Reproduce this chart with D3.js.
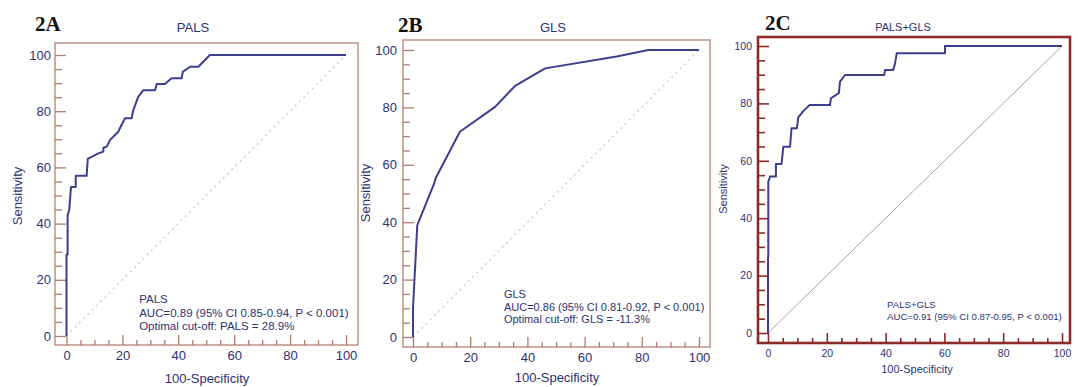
<!DOCTYPE html>
<html>
<head>
<meta charset="utf-8">
<script src="https://cdn.jsdelivr.net/npm/d3@7"></script>
<style>
  body { margin: 0; background: #fff; }
  svg { display: block; }
  text { font-family: Arial, "Liberation Sans", sans-serif; fill: #2d3272; }
  .panel-tag { font-family: "Liberation Serif", "Times New Roman", serif; font-weight: bold; fill: #111; }
</style>
</head>
<body>
<div id="chart"></div>
<script>
// ROC curve points (100-specificity, sensitivity)
const palsX = [0, 0, 0.4, 0.4, 1, 1.6, 3.3, 3.3, 7.2, 7.6, 11.4, 13.2, 13.2, 14.4, 15.6, 18.5, 20.9, 23.3, 23.9, 25.7, 27.5, 31.7, 32.3, 35.2, 37.6, 41.2, 41.6, 44.2, 47.2, 51.3, 100];
const palsY = [0, 29, 29, 43, 45, 53, 53, 57, 57, 63, 65, 65.6, 67, 67.4, 69.8, 72.7, 77.5, 77.5, 80.4, 85.2, 87.5, 87.5, 89.7, 89.7, 91.7, 91.7, 94, 95.8, 95.8, 100, 100];

const glsX = [0, 0, 1.5, 7.4, 7.9, 16.4, 28.7, 35.7, 46.2, 71.2, 82.3, 100];
const glsY = [0, 10, 39, 53.5, 55.3, 71.5, 80.2, 87.5, 93.6, 97.7, 100, 100];

const comboX = [0, 0, 0.1, 0.1, 0.7, 2.7, 2.7, 4.6, 5.2, 7.5, 8.0, 9.8, 10.3, 12, 14.1, 21.1, 21.4, 24.1, 24.5, 26.2, 39.5, 39.8, 42.6, 43.2, 43.8, 60.2, 60.2, 100];
const comboY = [0, 26.4, 26.4, 52.7, 54.5, 54.5, 58.9, 58.9, 64.9, 64.9, 71.3, 71.3, 75.1, 77.3, 79.4, 79.4, 81.8, 83.6, 87.6, 89.9, 89.9, 91.6, 91.6, 93.9, 97.5, 97.5, 100, 100];

const majorTicks = [0, 20, 40, 60, 80, 100];
const minorTicks = d3.range(0, 101, 5).filter(v => v % 20 !== 0);

const tags = ["2A", "2B", "2C"];
const titles = ["PALS", "GLS", "PALS+GLS"];
const notes = [
  ["PALS", "AUC=0.89 (95% CI 0.85-0.94, P < 0.001)", "Optimal cut-off: PALS = 28.9%"],
  ["GLS", "AUC=0.86 (95% CI 0.81-0.92, P < 0.001)", "Optimal cut-off: GLS = -11.3%"],
  ["PALS+GLS", "AUC=0.91 (95% CI 0.87-0.95, P < 0.001)"]
];
const xLabel = "100-Specificity";
const yLabel = "Sensitivity";

const width = 1078, height = 387;

// layout of each panel (pixels)
const panels = [
  { xs: palsX, ys: palsY, frame: [55, 43, 358, 345], xr: [66.5, 346], yr: [336, 55],
    frameColor: "#c4998c", tickColor: "#b07c70", frameW: 1.6,
    tagPos: [35, 31], titlePos: [193, 32], yLabPos: [22, 196], xLabPos: [207, 383],
    tickFont: 13, labFont: 13, titleFont: 13, noteFont: 11.5, noteX: 26, noteY: [303, 317, 330],
    tickPadY: 4, tickPadX: 6, diag: "dotted" },
  { xs: glsX, ys: glsY, frame: [403, 40, 710, 347], xr: [413, 699], yr: [337, 50],
    frameColor: "#c4998c", tickColor: "#b07c70", frameW: 1.6,
    tagPos: [398, 32], titlePos: [553, 32], yLabPos: [370, 193], xLabPos: [557, 382],
    tickFont: 13, labFont: 13, titleFont: 13, noteFont: 11, noteX: 31.8, noteY: [298, 311, 323],
    tickPadY: 6, tickPadX: 6, diag: "dotted" },
  { xs: comboX, ys: comboY, frame: [758, 37, 1070, 343], xr: [768, 1062], yr: [333, 46],
    frameColor: "#8e2a2a", tickColor: "#8e2a2a", frameW: 2.6,
    tagPos: [765, 30], titlePos: [903, 31], yLabPos: [727, 189], xLabPos: [917, 373],
    tickFont: 10.5, labFont: 11, titleFont: 11, noteFont: 9.6, noteX: 40.5, noteY: [308, 320],
    tickPadY: 6, tickPadX: 7, diag: "solid" }
];

const svg = d3.select("#chart").append("svg")
  .attr("width", width)
  .attr("height", height);

panels.forEach((p, i) => {
  const g = svg.append("g");
  const [fl, ft, fr, fb] = p.frame;
  const x = d3.scaleLinear().domain([0, 100]).range(p.xr);
  const y = d3.scaleLinear().domain([0, 100]).range(p.yr);

  // frame
  g.append("rect")
    .attr("x", fl).attr("y", ft)
    .attr("width", fr - fl).attr("height", fb - ft)
    .attr("fill", "#fff")
    .attr("stroke", p.frameColor)
    .attr("stroke-width", p.frameW);

  // y axis ticks, pointing inward from the frame's left edge
  const yMajor = g.append("g").attr("transform", `translate(${fl},0)`)
    .call(d3.axisLeft(y).tickValues(majorTicks).tickSize(-11).tickPadding(p.tickPadY));
  const yMinor = g.append("g").attr("transform", `translate(${fl},0)`)
    .call(d3.axisLeft(y).tickValues(minorTicks).tickSize(-7).tickFormat(""));

  // x axis ticks, pointing up from the frame's bottom edge
  const xMajor = g.append("g").attr("transform", `translate(0,${fb})`)
    .call(d3.axisBottom(x).tickValues(majorTicks).tickSize(-10).tickPadding(p.tickPadX));
  const xMinor = g.append("g").attr("transform", `translate(0,${fb})`)
    .call(d3.axisBottom(x).tickValues(minorTicks).tickSize(-5).tickFormat(""));

  [yMajor, yMinor, xMajor, xMinor].forEach(a => {
    a.select(".domain").remove();
    a.selectAll(".tick line").attr("stroke", p.tickColor).attr("stroke-width", i === 2 ? 1.6 : 1.3);
    a.selectAll(".tick text")
      .style("font-family", "Arial, 'Liberation Sans', sans-serif")
      .style("font-size", p.tickFont + "px")
      .attr("fill", "#2d3272");
  });

  // chance diagonal
  const diag = g.append("line")
    .attr("x1", x(0)).attr("y1", y(0))
    .attr("x2", x(100)).attr("y2", y(100));
  if (p.diag === "dotted") {
    diag.attr("stroke", "#cfd0da").attr("stroke-width", 1.6).attr("stroke-dasharray", "2,4");
  } else {
    diag.attr("stroke", "#a89494").attr("stroke-width", 0.9);
  }

  // ROC curve
  const pts = p.xs.map((v, k) => [v, p.ys[k]]);
  g.append("path")
    .datum(pts)
    .attr("fill", "none")
    .attr("stroke", "#3b3f8e")
    .attr("stroke-width", 2)
    .attr("stroke-linejoin", "round")
    .attr("d", d3.line().x(d => x(d[0])).y(d => y(d[1])));

  // annotation
  notes[i].forEach((t, k) => {
    g.append("text")
      .attr("x", x(p.noteX))
      .attr("y", p.noteY[k])
      .style("font-size", p.noteFont + "px")
      .text(t);
  });

  // titles and labels
  g.append("text").attr("class", "panel-tag")
    .attr("x", p.tagPos[0]).attr("y", p.tagPos[1])
    .style("font-size", "21px")
    .text(tags[i]);

  g.append("text")
    .attr("x", p.titlePos[0]).attr("y", p.titlePos[1])
    .attr("text-anchor", "middle")
    .style("font-size", p.titleFont + "px")
    .text(titles[i]);

  g.append("text")
    .attr("transform", `translate(${p.yLabPos[0]},${p.yLabPos[1]}) rotate(-90)`)
    .attr("text-anchor", "middle")
    .style("font-size", p.labFont + "px")
    .text(yLabel);

  g.append("text")
    .attr("x", p.xLabPos[0]).attr("y", p.xLabPos[1])
    .attr("text-anchor", "middle")
    .style("font-size", p.labFont + "px")
    .text(xLabel);
});
</script>
</body>
</html>
